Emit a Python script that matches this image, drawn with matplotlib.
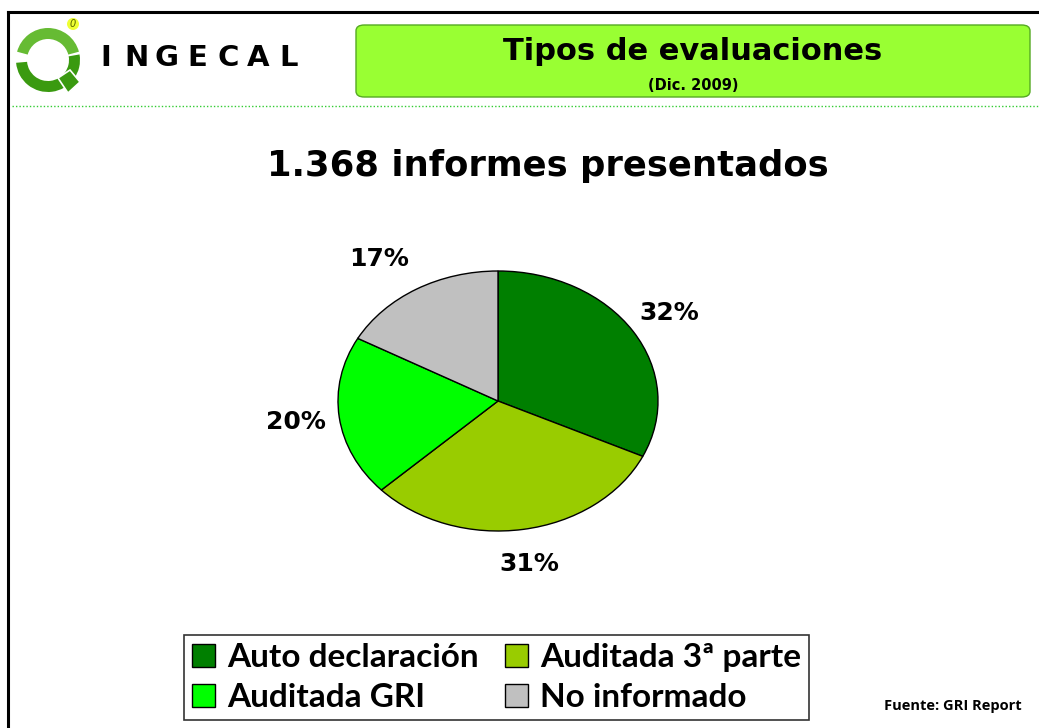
import matplotlib
matplotlib.use("Agg")
import matplotlib.pyplot as plt
from matplotlib.patches import FancyBboxPatch, Wedge, Polygon, Circle, Patch
from matplotlib.lines import Line2D

# ---- data ----
categories = ["Auto declaración", "Auditada 3ª parte", "Auditada GRI", "No informado"]
values = [32, 31, 20, 17]
colors = ["#007F00", "#99CC00", "#00FF00", "#C0C0C0"]
title = "1.368 informes presentados"
header = "Tipos de evaluaciones"
subheader = "(Dic. 2009)"
source = "Fuente: GRI Report"
brand = "INGECAL"

W, H = 1039, 728
fig = plt.figure(figsize=(W / 100, H / 100), dpi=100)
fig.patch.set_facecolor("white")


def fx(x):
    return x / W


def fy(y):
    return 1 - y / H


# page frame
fig.add_artist(Line2D([fx(8), fx(8)], [fy(12), fy(728)], color="black", lw=2.2))
fig.add_artist(Line2D([fx(8), fx(1039)], [fy(12), fy(12)], color="black", lw=2.2))

# dotted separator
fig.add_artist(Line2D([fx(12), fx(1039)], [fy(106), fy(106)], color="#33CC33",
                      lw=1.0, ls=(0, (1, 1.5))))

# header box
hb = FancyBboxPatch((fx(356), fy(97)), fx(1030) - fx(356), fy(25) - fy(97),
                    boxstyle="round,pad=0,rounding_size=0.008",
                    transform=fig.transFigure, facecolor="#99FF33",
                    edgecolor="#55AA22", lw=1.0)
fig.add_artist(hb)
fig.text(fx(693), fy(51), header, ha="center", va="center", fontsize=22,
         fontweight="bold", family="DejaVu Sans", color="black")
fig.text(fx(693), fy(85), subheader, ha="center", va="center", fontsize=10.5,
         fontweight="bold", family="DejaVu Sans", color="black")

# logo
lax = fig.add_axes([0, 0, 1, 1], facecolor="none")
lax.set_xlim(0, W)
lax.set_ylim(H, 0)
lax.axis("off")
lax.add_patch(Wedge((48, 60), 32, 195, 345, width=11, facecolor="#66BB33", edgecolor="none"))
lax.add_patch(Wedge((48, 60), 32, 350, 175, width=11, facecolor="#3A9A10", edgecolor="none"))
lax.add_patch(Polygon([[58, 78], [70, 70], [80, 82], [68, 93]], closed=True,
                      facecolor="#3A9A10", edgecolor="white", lw=1.2))
lax.add_patch(Circle((73, 24), 6, facecolor="#EEFF33", edgecolor="none"))
lax.text(73, 24, "0", ha="center", va="center", fontsize=7, style="italic", color="#556600")
for i, ch in enumerate(brand):
    lax.text(106 + i * 30.5, 58, ch, ha="center", va="center", fontsize=21,
             fontweight="heavy", family="DejaVu Sans", color="black")

# chart title
fig.text(fx(548), fy(166), title, ha="center", va="center", fontsize=25.5,
         fontweight="bold", family="DejaVu Sans", color="black")

# pie
ax = fig.add_axes([fx(338), fy(531), fx(320), fy(271) - fy(531)])
wedges, texts, autotexts = ax.pie(
    values, colors=colors, startangle=90, counterclock=False,
    autopct="%d%%", pctdistance=1.27,
    wedgeprops=dict(edgecolor="black", linewidth=1.0),
    textprops=dict(fontsize=18, fontweight="bold", family="DejaVu Sans", color="black"))
ax.set_aspect("auto")
ax.set_xlim(-1, 1)
ax.set_ylim(-1, 1)
for t in autotexts:
    t.set_clip_on(False)
autotexts[3].set_x(autotexts[3].get_position()[0] - 0.1)

# legend (row-wise order: matplotlib fills columns first)
order = [0, 2, 1, 3]
handles = [Patch(facecolor=colors[i], edgecolor="black", lw=1.0) for i in order]
labels = [categories[i] for i in order]
leg = fig.legend(handles, labels, ncol=2, loc="center",
                 bbox_to_anchor=(fx(496.5), fy(677.5)),
                 frameon=True, fancybox=False, edgecolor="black",
                 prop=dict(family="Lato", weight="bold", size=24),
                 handlelength=0.7, handleheight=0.7, handletextpad=0.35,
                 columnspacing=0.8, labelspacing=0.32, borderpad=0.25)
leg.get_frame().set_linewidth(1.2)

fig.text(fx(953), fy(706), source, ha="center", va="center", fontsize=10.5,
         fontweight="bold", family="Open Sans", color="black")

fig.savefig("out.png", dpi=100)
